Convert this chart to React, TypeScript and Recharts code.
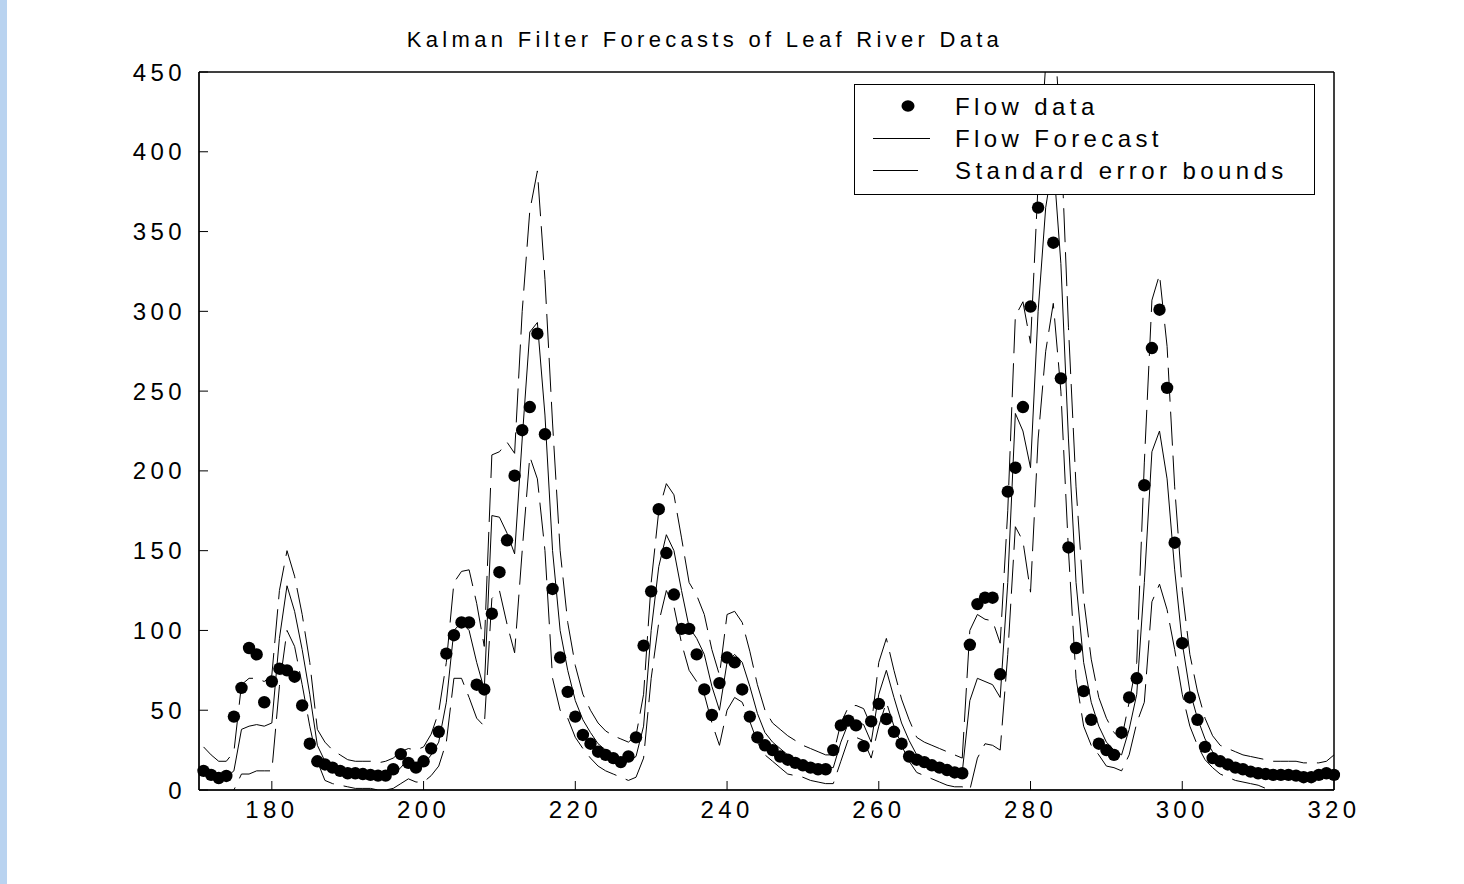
import React from 'react'
import { LineChart, Line, XAxis, YAxis, Legend, ReferenceArea } from 'recharts'

// daily flow record, first value is day 171
const FIRST_DAY = 171

const flowData = [
  12, 9.5, 7.5, 8.8, 46, 64, 89, 85, 55, 68,
  76, 75, 71, 53, 29, 18, 16, 14, 12, 10.5,
  10.5, 10, 9.5, 9, 9, 13, 22.5, 17, 14, 18,
  26, 36.5, 85.5, 97, 105, 105, 66, 63, 110.5, 136.5,
  156.5, 197, 225.5, 240, 286, 223, 126, 83, 61.5, 46,
  34.5, 29, 24, 22, 20, 17.5, 21, 33, 90.5, 124.5,
  176, 148.5, 122.5, 101, 101, 85, 63, 47, 67, 83,
  80, 63, 46, 33, 28, 25, 21, 19, 17, 15.5,
  14, 13, 13, 25, 40.5, 43.5, 40.5, 27.5, 43, 54,
  44.5, 36.5, 29, 21, 19, 17.5, 15.5, 14, 12.5, 11,
  10.5, 91, 116.5, 120.5, 120.5, 72.5, 187, 202, 240, 303,
  365, 392, 343, 258, 152, 89, 62, 44, 29, 25,
  22, 36, 58, 70, 191, 277, 301, 252, 155, 92,
  58, 44, 27, 20, 18, 16, 14, 13, 11.5, 10.5,
  10, 9.5, 9.5, 9.5, 9, 8, 8, 9.5, 10.5, 9.5,
]

const flowForecast = [
  13, 10, 8, 8, 12, 38, 40, 41, 40, 42,
  95, 128, 112, 88, 60, 28, 18, 15, 13, 11,
  10, 10, 10, 9, 9, 10, 14, 20, 16, 16,
  22, 30, 55, 100, 105, 100, 80, 63, 172, 171,
  161, 148, 220, 287, 293, 235, 150, 100, 75, 56,
  44, 36, 29, 25, 22, 20, 18, 21, 40, 100,
  140, 160, 150, 125, 102, 95, 85, 65, 50, 80,
  85, 80, 65, 48, 36, 30, 26, 22, 20, 18,
  16, 15, 14, 14, 30, 42, 43, 41, 30, 60,
  75, 58, 42, 31, 22, 20, 18, 16, 14, 13,
  11, 56, 70, 68, 66, 58, 130, 236, 225, 202,
  300, 365, 395, 330, 220, 130, 80, 55, 40, 30,
  25, 22, 38, 60, 130, 212, 225, 195, 138, 92,
  62, 45, 32, 24, 19, 17, 15, 14, 13, 12,
  11, 10, 10, 10, 9, 9, 8, 8, 9, 10,
]

const upperBound = [
  27, 22, 18, 18, 24, 66, 70, 70, 68, 72,
  125, 150, 134, 110, 80, 38, 30, 25, 22, 19,
  18, 18, 18, 17, 18, 20, 24, 26, 25, 27,
  35, 49, 80, 130, 137, 138, 117, 90, 210, 212,
  218, 211, 300, 363, 388, 320, 230, 150, 105, 78,
  60, 50, 42, 37, 34, 32, 30, 34, 60, 130,
  175, 192, 185, 158, 130, 122, 110, 88, 72, 110,
  112, 105, 87, 66, 50, 42, 38, 34, 31, 28,
  26, 24, 22, 22, 42, 52, 53, 51, 40, 80,
  95, 75, 57, 44, 33, 30, 28, 26, 24, 22,
  20, 100, 110, 107, 106, 92, 175, 297, 306, 280,
  380, 455, 485, 410, 290, 190, 120, 82, 58, 45,
  36, 32, 55, 80, 205, 307, 323, 278, 190, 125,
  85, 62, 45, 34, 28, 26, 24, 22, 21, 20,
  19, 18, 18, 18, 18, 17, 17, 17, 18, 22,
]

const lowerBound = [
  -1, -2, -2, -2, 0, 10, 10, 12, 12, 12,
  65, 100, 90, 66, 40, 18, 6, 4, 3, 2,
  1, 1, 1, 0, 0, 1, 4, 7, 5, 5,
  9, 15, 30, 70, 70, 58, 45, 40, 120, 125,
  104, 86, 150, 209, 195, 150, 70, 50, 45, 33,
  26, 20, 15, 12, 10, 8, 6, 8, 20, 70,
  105, 125, 115, 92, 75, 68, 60, 42, 28, 50,
  58, 55, 43, 30, 22, 18, 14, 10, 9, 8,
  6, 5, 4, 4, 18, 32, 33, 31, 20, 40,
  55, 40, 28, 18, 11, 9, 7, 5, 3, 2,
  2, 0, 20, 29, 28, 25, 85, 165, 156, 124,
  220, 275, 305, 250, 150, 70, 40, 28, 22, 15,
  14, 12, 22, 42, 55, 118, 129, 113, 88, 60,
  40, 28, 19, 14, 10, 8, 6, 5, 4, 3,
  1, 0, 0, 0, 0, -1, -1, -1, 0, 0,
]

const xTicks = [180, 200, 220, 240, 260, 280, 300, 320]
const yTicks = [0, 50, 100, 150, 200, 250, 300, 350, 400, 450]
const X_MIN = 170.4
const X_MAX = 320

const chartData = flowData.map((flow, i) => ({
  day: FIRST_DAY + i,
  flow,
  forecast: flowForecast[i],
  upper: upperBound[i],
  lower: lowerBound[i],
}))

const FONT = '"Liberation Sans", Arial, Helvetica, sans-serif'
const tickStyle = { fontSize: 24, fontFamily: FONT, fill: '#000', letterSpacing: 4.4 }

function LegendBox() {
  return (
    <svg width={461} height={111} style={{ display: 'block', background: '#fff' }}>
      <rect x={0.5} y={0.5} width={460} height={110} fill="#fff" stroke="#000" strokeWidth={1} />
      <ellipse cx={54} cy={22} rx={6.5} ry={5.8} fill="#000" />
      <line x1={19} x2={76} y1={54.5} y2={54.5} stroke="#000" strokeWidth={1} />
      <line x1={19} x2={64} y1={86.5} y2={86.5} stroke="#000" strokeWidth={1} />
      <g style={{ fontSize: 24, fontFamily: FONT, letterSpacing: 4.4 }} fill="#000">
        <text x={101} y={31}>Flow data</text>
        <text x={101} y={63}>Flow Forecast</text>
        <text x={101} y={95}>Standard error bounds</text>
      </g>
    </svg>
  )
}

export default function App() {
  return (
    <div style={{ position: 'absolute', left: 0, top: 0, width: 1464, height: 884, background: '#fff', overflow: 'hidden' }}>
      <div style={{ position: 'absolute', left: 0, top: 0, width: 7, height: 884, background: '#b9d3f0' }} />
      <div
        style={{
          position: 'absolute',
          left: 0,
          width: 1410,
          top: 27,
          textAlign: 'center',
          fontFamily: FONT,
          fontSize: 22,
          letterSpacing: 4.3,
          color: '#000',
          whiteSpace: 'nowrap',
        }}
      >
        Kalman Filter Forecasts of Leaf River Data
      </div>
      <LineChart
        width={1464}
        height={884}
        data={chartData}
        margin={{ top: 71, right: 129, bottom: 54, left: 0 }}
      >
        <XAxis
          xAxisId="b"
          type="number"
          dataKey="day"
          domain={[X_MIN, X_MAX]}
          ticks={xTicks}
          axisLine={{ stroke: '#000', strokeWidth: 1.5 }}
          tickLine={{ stroke: '#000' }}
          tickSize={-9}
          tickMargin={20}
          height={40}
          tick={tickStyle}
        />
        <XAxis
          xAxisId="t"
          orientation="top"
          type="number"
          dataKey="day"
          domain={[X_MIN, X_MAX]}
          ticks={xTicks}
          axisLine={{ stroke: '#000' }}
          tickLine={{ stroke: '#000' }}
          tickSize={-9}
          tick={false}
          height={1}
        />
        <YAxis
          yAxisId="l"
          domain={[0, 450]}
          ticks={yTicks}
          allowDataOverflow
          axisLine={{ stroke: '#000', strokeWidth: 1.5 }}
          tickLine={{ stroke: '#000' }}
          tickSize={-9}
          tickMargin={22}
          width={199}
          tick={tickStyle}
        />
        <YAxis
          yAxisId="r"
          orientation="right"
          domain={[0, 450]}
          ticks={yTicks}
          axisLine={{ stroke: '#000' }}
          tickLine={{ stroke: '#000' }}
          tickSize={-9}
          tick={false}
          width={1}
        />
        <ReferenceArea
          xAxisId="b"
          yAxisId="l"
          x1={X_MIN}
          x2={X_MAX}
          y1={0}
          y2={450}
          fill="none"
          stroke="#000"
          strokeWidth={1}
          fillOpacity={0}
          ifOverflow="visible"
        />
        <Line
          xAxisId="b"
          yAxisId="l"
          dataKey="upper"
          type="linear"
          stroke="#000"
          strokeWidth={1}
          strokeDasharray="34 10"
          dot={false}
          activeDot={false}
          isAnimationActive={false}
        />
        <Line
          xAxisId="b"
          yAxisId="l"
          dataKey="lower"
          type="linear"
          stroke="#000"
          strokeWidth={1}
          strokeDasharray="34 10"
          dot={false}
          activeDot={false}
          isAnimationActive={false}
        />
        <Line
          xAxisId="b"
          yAxisId="l"
          dataKey="forecast"
          type="linear"
          stroke="#000"
          strokeWidth={1}
          dot={false}
          activeDot={false}
          isAnimationActive={false}
        />
        <Line
          xAxisId="b"
          yAxisId="l"
          dataKey="flow"
          type="linear"
          stroke="none"
          dot={{ r: 6.2, fill: '#000', stroke: 'none', strokeWidth: 0, clipDot: false }}
          activeDot={false}
          isAnimationActive={false}
        />
        <Legend
          layout="horizontal"
          verticalAlign="middle"
          align="center"
          content={() => <LegendBox />}
          wrapperStyle={{ position: 'absolute', left: 854, top: 84, width: 461, height: 111 }}
        />
      </LineChart>
    </div>
  )
}
